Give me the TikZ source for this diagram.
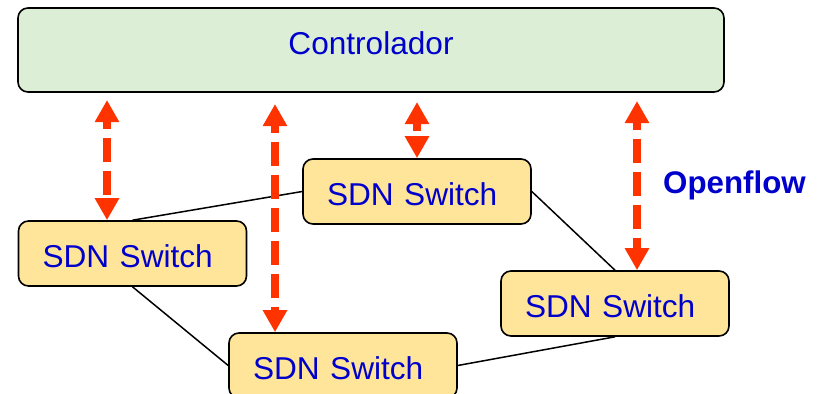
\documentclass[tikz,border=0pt]{standalone}
\usepackage{fontspec}
\setmainfont{Liberation Sans}
\usetikzlibrary{arrows.meta}
\definecolor{ctrlfill}{RGB}{220,238,214}
\definecolor{swfill}{RGB}{255,229,153}
\definecolor{txtblue}{RGB}{0,0,204}
\definecolor{ofred}{RGB}{255,51,0}
\tikzset{
  box/.style={draw=black, line width=1.6pt, rounded corners=10pt, text=txtblue,
    font=\fontsize{31.6}{36}\selectfont},
  swbox/.style={box, fill=swfill, minimum width=228pt, minimum height=65pt,
    text width=180pt, inner xsep=24pt, inner ysep=0pt, align=left,
    text height=27pt, text depth=0pt},
  link/.style={line width=1.5pt, black},
  ofarrow/.style={ofred, line width=8pt, dash pattern=on 24pt off 9pt, dash phase=16pt,
    {Triangle[width=23pt,length=22pt]}-{Triangle[width=23pt,length=22pt]}}
}
\begin{document}
\begin{tikzpicture}[x=1pt,y=-1pt]
\useasboundingbox (0,0) rectangle (823,394);
\node[box, fill=ctrlfill, minimum width=706pt, minimum height=84pt, inner sep=0pt,
      text height=23pt, text depth=15pt] (ctrl) at (371,50) {Controlador};
\node[swbox] (s1) at (417,191.5) {SDN Switch};
\node[swbox] (s2) at (132.5,253.5) {SDN Switch};
\node[swbox] (s3) at (343,365.5) {SDN Switch};
\node[swbox] (s4) at (615,303.5) {SDN Switch};
\node[anchor=base west, inner sep=0pt, text=txtblue, font=\fontsize{31.3}{36}\selectfont\bfseries] (of) at (663,193) {Openflow};
\draw[link] (s2.north) -- (s1.west);
\draw[link] (s2.south) -- (s3.west);
\draw[link] (s1.east) -- (s4.north);
\draw[link] (s3.east) -- (s4.south);
\coordinate (a1) at (107,100);
\coordinate (a2) at (275,104);
\coordinate (a3) at (417,102);
\coordinate (a4) at (637,101);
\draw[ofarrow] (a1) -- (a1 |- s2.north);
\draw[ofarrow] (a2) -- (a2 |- s3.north);
\draw[ofarrow] (a3) -- (a3 |- s1.north);
\draw[ofarrow] (a4) -- (a4 |- s4.north);
\end{tikzpicture}
\end{document}
